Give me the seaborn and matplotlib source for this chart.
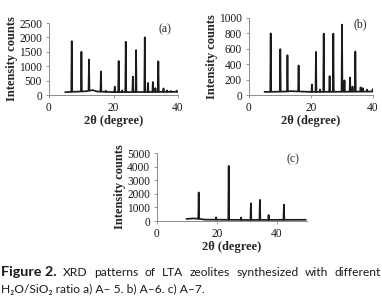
import numpy as np
import pandas as pd
import matplotlib
matplotlib.use("Agg")
import matplotlib.pyplot as plt
import seaborn as sns

# ---- data (peak position 2theta, peak intensity) ----
a_pos = [7.05, 10.05, 12.4, 16.1, 17.6, 20.4, 21.6, 22.7, 23.8, 26.0, 27.0, 29.7, 30.7, 32.2, 33.0, 33.9, 35.5, 36.6, 37.8, 39.6]
a_hgt = [1870, 1500, 1230, 820, 150, 290, 1180, 160, 1850, 640, 1560, 2000, 420, 450, 240, 1170, 230, 160, 140, 150]
a_base = [(5.0, 100), (11.5, 130), (13.5, 170), (15.0, 120), (20.0, 100), (40.0, 110)]

b_pos = [7.0, 10.1, 12.4, 16.0, 17.7, 20.3, 21.6, 22.9, 24.1, 26.0, 27.2, 30.0, 30.8, 32.6, 33.4, 34.3, 36.0, 36.7, 38.1, 39.9]
b_hgt = [800, 595, 517, 384, 45, 138, 560, 70, 797, 245, 797, 914, 190, 228, 110, 565, 100, 90, 70, 75]
b_base = [(5.0, 40), (12.0, 45), (13.5, 50), (20.0, 40), (40.0, 45)]

c_pos = [13.9, 19.7, 23.9, 28.0, 31.3, 34.3, 37.2, 42.3]
c_hgt = [2100, 270, 4050, 250, 1300, 1550, 440, 1200]
c_base = [(9.8, 150), (12.0, 190), (13.5, 170), (16.0, 100), (30.0, 80), (49.6, 90)]

a_xticks = [0, 20, 40]
a_yticks = [0, 500, 1000, 1500, 2000, 2500]
b_xticks = [0, 20, 40]
b_yticks = [0, 200, 400, 600, 800, 1000]
c_xticks = [0, 20, 40]
c_yticks = [0, 1000, 2000, 3000, 4000, 5000]


def pattern(pos, hgt, base, half=0.14):
    bx = [b[0] for b in base]
    by = [b[1] for b in base]
    xs = list(bx)
    ys = list(by)
    for p, h in zip(pos, hgt):
        lvl = np.interp(p, bx, by)
        xs += [p - half, p, p + half]
        ys += [lvl, h, lvl]
    order = np.argsort(xs, kind="stable")
    return pd.DataFrame({"x": np.array(xs)[order], "y": np.array(ys)[order]})


sns.set_theme(style="white")
plt.rcParams["font.family"] = ["Liberation Serif", "DejaVu Serif"]

fig = plt.figure(figsize=(3.82, 3.06), dpi=100)
W, H = 382.0, 306.0

def make_ax(l, r, b, t):
    return fig.add_axes([l / W, (H - b) / H, (r - l) / W, (b - t) / H])

panels = [
    (make_ax(49, 178, 95, 23), a_pos, a_hgt, a_base, a_xticks, a_yticks, (0, 40), (0, 2500), "(a)"),
    (make_ax(249, 373, 95, 18), b_pos, b_hgt, b_base, b_xticks, b_yticks, (0, 40), (0, 1000), "(b)"),
    (make_ax(157, 307, 221, 153), c_pos, c_hgt, c_base, c_xticks, c_yticks, (0, 50), (0, 5000), "(c)"),
]

for ax, pos, hgt, base, xt, yt, xl, yl, lab in panels:
    df = pattern(pos, hgt, base)
    sns.lineplot(data=df, x="x", y="y", ax=ax, color="#1a1a1a", linewidth=1.25, sort=False)
    ax.set_xlim(*xl)
    ax.set_ylim(*yl)
    ax.set_xticks(xt)
    ax.set_yticks(yt)
    ax.set_xticklabels([str(v) for v in xt], fontsize=8.3)
    ax.set_yticklabels([str(v) for v in yt], fontsize=8.3)
    ax.tick_params(axis="both", which="both", length=2, width=0.6, color="#888888",
                   pad=3, direction="out", bottom=True, left=True, labelcolor="#1a1a1a")
    for s in ["top", "right"]:
        ax.spines[s].set_visible(False)
    for s in ["left", "bottom"]:
        ax.spines[s].set_color("#8c8c8c")
        ax.spines[s].set_linewidth(0.7)
    ax.set_facecolor("none")
    ax.set_xlabel("2θ (degree)", fontsize=9, fontweight="bold", labelpad=1)
    ax.set_ylabel("Intensity counts", fontsize=9, fontweight="bold", labelpad=1)
    ax.text(0.95, 0.99, lab, transform=ax.transAxes, fontsize=8.5, ha="right", va="top")

# ---- caption ----
cap_font = ["Lato", "DejaVu Sans"]
renderer = fig.canvas.get_renderer()
line1 = [("Figure 2.", True), ("XRD", False), ("patterns", False), ("of", False), ("LTA", False),
         ("zeolites", False), ("synthesized", False), ("with", False), ("different", False)]
texts = []
for w, bold in line1:
    t = fig.text(0, 1 - 272 / H, w, fontsize=8, family=cap_font,
                 fontweight="bold" if bold else "normal", va="center", ha="left", color="#1a1a1a")
    texts.append(t)
bold_size = 8 * 56.0 / texts[0].get_window_extent(renderer).width
reg_total = sum(t.get_window_extent(renderer).width for t in texts[1:])
reg_size = 8 * (380.0 - 56.0 - 8 * 6.5) / reg_total
texts[0].set_fontsize(bold_size)
for t in texts[1:]:
    t.set_fontsize(reg_size)
widths = [t.get_window_extent(renderer).width for t in texts]
x0, x1 = 1.0, 381.0
gap = (x1 - x0 - sum(widths)) / (len(texts) - 1)
x = x0
for t, wd in zip(texts, widths):
    t.set_x(x / W)
    x += wd + gap

fig.text(1 / W, 1 - 289 / H, "H₂O/SiO₂ ratio a) A– 5. b) A–6. c) A–7.", fontsize=reg_size,
         family=cap_font, va="center", ha="left", color="#1a1a1a")

fig.savefig("out.png", dpi=100)
